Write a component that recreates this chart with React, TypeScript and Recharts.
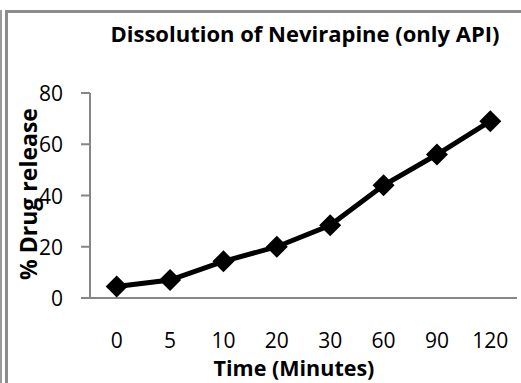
import React from "react";
import { LineChart, Line, XAxis, YAxis } from "recharts";

// Dissolution profile of nevirapine (API alone)
const times = ["0", "5", "10", "20", "30", "60", "90", "120"];
const release = [4.5, 7.0, 14.3, 20.0, 28.4, 44.0, 56.0, 69.0];
const yTicks = [0, 20, 40, 60, 80];

const data = times.map((t, i) => ({ time: t, release: release[i] }));

const FONT = "'Open Sans', Lato, sans-serif";
const AXIS_GREY = "#868686";

const XTick = (props: any) => {
  const { x, y, payload } = props;
  return (
    <text
      x={x}
      y={y + 34}
      textAnchor="middle"
      dominantBaseline="central"
      fontFamily={FONT}
      fontSize={21}
      fill="#000"
    >
      {payload.value}
    </text>
  );
};

const YTick = (props: any) => {
  const { y, payload } = props;
  return (
    <text
      x={63}
      y={y}
      textAnchor="end"
      dominantBaseline="central"
      fontFamily={FONT}
      fontSize={21}
      fill="#000"
    >
      {payload.value}
    </text>
  );
};

const Diamond = (props: any) => {
  const { cx, cy, index } = props;
  const r = 11;
  return (
    <path
      key={`d-${index}`}
      d={`M${cx},${cy - r} L${cx + r},${cy} L${cx},${cy + r} L${cx - r},${cy} Z`}
      fill="#000"
    />
  );
};

export default function App() {
  return (
    <div style={{ position: "absolute", left: 0, top: 0, width: 521, height: 383, background: "#fff", overflow: "hidden" }}>
      {/* outer frame */}
      <div style={{ position: "absolute", left: 0, top: 10, width: 2, height: 400, background: "#9a9a9a" }} />
      <div
        style={{
          position: "absolute",
          left: 5,
          top: 10,
          width: 600,
          height: 400,
          borderLeft: "3px solid #8c8c8c",
          borderTop: "3px solid #8c8c8c",
        }}
      />
      <div style={{ position: "absolute", left: 0, top: 0 }}>
        <LineChart
          width={521}
          height={383}
          data={data}
          margin={{ top: 93, right: 4, bottom: 0, left: 0 }}
        >
          <XAxis
            dataKey="time"
            height={85}
            padding={{ left: 26.7, right: 26.7 }}
            axisLine={{ stroke: AXIS_GREY, strokeWidth: 2 }}
            tickLine={false}
            tick={<XTick />}
            interval={0}
          />
          <YAxis
            width={90}
            domain={[0, 80]}
            ticks={yTicks}
            axisLine={{ stroke: AXIS_GREY, strokeWidth: 2 }}
            tickLine={{ stroke: AXIS_GREY, strokeWidth: 2 }}
            tickSize={9}
            tick={<YTick />}
          />
          <Line
            dataKey="release"
            stroke="#000"
            strokeWidth={5}
            dot={Diamond}
            activeDot={false}
            isAnimationActive={false}
          />
          <text
            x={305}
            y={33}
            textAnchor="middle"
            dominantBaseline="central"
            fontFamily={FONT}
            fontWeight="bold"
            fontSize={22}
            fill="#000"
          >
            Dissolution of Nevirapine (only API)
          </text>
          <text
            x={294}
            y={367}
            textAnchor="middle"
            dominantBaseline="central"
            fontFamily={FONT}
            fontWeight="bold"
            fontSize={21.5}
            fill="#000"
          >
            Time (Minutes)
          </text>
          <text
            x={28}
            y={194}
            transform="rotate(-90 28 194)"
            textAnchor="middle"
            dominantBaseline="central"
            fontFamily={FONT}
            fontWeight="bold"
            fontSize={23}
            fill="#000"
          >
            % Drug release
          </text>
        </LineChart>
      </div>
    </div>
  );
}
